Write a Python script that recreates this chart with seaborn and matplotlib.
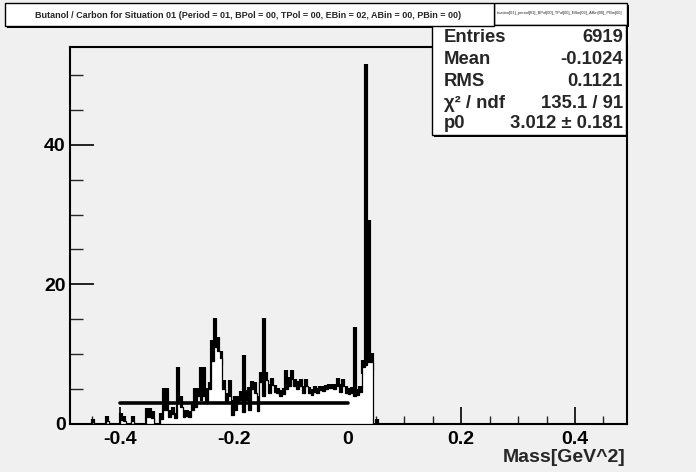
import numpy as np
import pandas as pd
import matplotlib
matplotlib.use("Agg")
import matplotlib.pyplot as plt
from matplotlib.patches import Rectangle
import seaborn as sns

# ---------------- data ----------------
bin_width = 0.005
first_center = -0.4575
ratio_values = [
    0, 0, 0.3, 0, 0, 0, 0, 0.5, 0, 0,
    0, 0, 0.6, 0.5, 0, 0, 0.5, 0, 0, 0,
    0, 1.0, 1.0, 0.8, 0, 0, 0.7, 2.0, 2.0, 1.0,
    1.5, 0.8, 3.0, 2.5, 1.0, 1.2, 1.0, 2.0, 2.5, 4.0,
    3.5, 4.0, 3.0, 5.0, 9.0, 11.0, 10.5, 9.4, 5.0, 3.0,
    4.0, 1.3, 2.0, 3.0, 3.5, 1.7, 3.5, 2.0, 5.0, 4.5,
    1.8, 6.0, 4.0, 6.3, 4.5, 5.6, 4.6, 4.4, 4.0, 4.3,
    5.0, 5.5, 6.5, 5.5, 5.0, 5.5, 4.5, 5.5, 4.5, 4.2,
    4.6, 4.4, 4.8, 4.7, 5.0, 5.2, 5.1, 5.0, 5.5, 4.6,
    5.5, 4.4, 4.3, 4.5, 4.0, 4.2, 4.6, 8.2, 8.4, 8.9,
    8.9, 0, 0.2,
]
ratio_errors = [
    0, 0, 0.4, 0, 0, 0, 0, 0.6, 0, 0,
    0, 0, 1.0, 0.6, 0, 0, 0.6, 0, 0, 0,
    0, 1.3, 1.3, 1.0, 0, 0, 0.9, 3.2, 3.2, 1.0,
    1.0, 0.8, 5.2, 1.5, 1.0, 0.8, 0.9, 1.0, 2.7, 1.2,
    4.7, 4.2, 2.2, 1.0, 3.0, 4.2, 2.0, 1.0, 1.3, 1.5,
    2.3, 2.1, 2.0, 1.0, 1.2, 8.2, 1.3, 3.3, 1.2, 1.5,
    2.2, 1.5, 11.2, 1.2, 1.2, 1.0, 1.0, 0.8, 0.8, 0.9,
    2.7, 1.2, 1.2, 1.0, 1.2, 1.0, 1.0, 1.0, 0.8, 0.8,
    0.8, 0.8, 0.6, 0.7, 0.6, 0.6, 0.6, 0.8, 1.1, 1.2,
    1.0, 1.0, 0.8, 0.8, 9.9, 0.8, 0.8, 1.0, 43.1, 20.3,
    1.3, 0, 0.5,
]
fit_range = [-0.4, 0.0]
fit_p0 = 3.012

stats_labels = ["Entries", "Mean", "RMS", "\u03c7\u00b2 / ndf", "p0"]
stats_values = ["6919", "-0.1024", "0.1121", "135.1 / 91", "3.012 \u00b1 0.181"]
title_text = ("Butanol / Carbon for Situation 01 (Period = 01, BPol = 00, "
              "TPol = 00, EBin = 02, ABin = 00, PBin = 00)")
hist_name = "tuation[01]_period[01]_BPol[00]_TPol[00]_EBin[02]_ABin[00]_PBin[00]"
x_label = "Mass[GeV^2]"
x_ticks = [-0.4, -0.2, 0.0, 0.2, 0.4]
x_tick_labels = ["-0.4", "-0.2", "0", "0.2", "0.4"]
y_ticks = [0, 20, 40]
y_tick_labels = ["0", "20", "40"]

# ---------------- derived ----------------
n = len(ratio_values)
centers = first_center + bin_width * np.arange(n)
edges = [float(e) for e in np.concatenate([centers - bin_width / 2,
                                            [centers[-1] + bin_width / 2]])]
df = pd.DataFrame({"mass": centers, "ratio": ratio_values, "err": ratio_errors})
df["lo"] = np.clip(df["ratio"] - df["err"], 0, None)
df["hi"] = df["ratio"] + df["err"]
mask = df["err"] > 0

W, H = 696, 472
BG = "#f0f0f0"
sns.set_theme(style="ticks")
plt.rcParams["font.family"] = ["Liberation Sans", "DejaVu Sans"]
plt.rcParams["font.weight"] = "bold"

fig = plt.figure(figsize=(W / 100, H / 100), dpi=100, facecolor=BG)
ax = fig.add_axes([70 / W, 1 - 424 / H, (627 - 70) / W, (424 - 47) / H])
ax.set_facecolor(BG)

# error bars (drawn beneath the filled histogram)
ax.vlines(df.loc[mask, "mass"], df.loc[mask, "lo"], df.loc[mask, "hi"],
          color="black", linewidth=3.0, zorder=2)

# white filled histogram
sns.histplot(x=df["mass"].to_numpy(), weights=df["ratio"].to_numpy(),
             bins=edges, element="step", fill=True, color="white",
             edgecolor="black", linewidth=0.9, alpha=1, ax=ax, zorder=3)

# fit line
fit_df = pd.DataFrame({"x": fit_range, "y": [fit_p0, fit_p0]})
sns.lineplot(data=fit_df, x="x", y="y", color="black", linewidth=2.6, ax=ax,
             zorder=4)

ax.set_xlim(-0.488, 0.4915)
ax.set_ylim(0, 54)
ax.set_xticks(x_ticks)
ax.set_xticklabels(x_tick_labels, fontsize=14, fontweight="bold")
ax.set_yticks(y_ticks)
ax.set_yticklabels(y_tick_labels, fontsize=14, fontweight="bold")
ax.set_xticks(np.arange(-0.45, 0.49, 0.05), minor=True)
ax.set_yticks(np.arange(0, 54, 5), minor=True)
ax.tick_params(which="major", direction="in", length=12, width=1.2, pad=5,
               colors="black")
ax.tick_params(which="minor", direction="in", length=6, width=1.0)
ax.tick_params(axis="y", which="major", length=17, pad=3)
ax.tick_params(axis="y", which="minor", length=9)
for s in ax.spines.values():
    s.set_linewidth(1.5)
    s.set_color("black")
    s.set_visible(True)
ax.set_xlabel("")
ax.set_ylabel("")
ax.grid(False)

fig.text(626 / W, 1 - 457 / H, x_label, ha="right", va="center",
         fontsize=14, fontweight="bold")


def box(x0, y0, x1, y1, shadow=3):
    fig.patches.append(Rectangle((x0 / W + shadow / W, 1 - y1 / H - shadow / H),
                                 (x1 - x0) / W, (y1 - y0) / H,
                                 transform=fig.transFigure, facecolor="black",
                                 edgecolor="none", zorder=5))
    fig.patches.append(Rectangle((x0 / W, 1 - y1 / H), (x1 - x0) / W,
                                 (y1 - y0) / H, transform=fig.transFigure,
                                 facecolor="white", edgecolor="black",
                                 linewidth=1, zorder=6))

# histogram-name box and stats box
box(494, 3, 627, 25, shadow=2)
fig.text(497 / W, 1 - 13 / H, hist_name, fontsize=2.9, fontweight="normal",
         va="center", ha="left", zorder=7)
box(432, 25, 626, 135, shadow=2)
row_y = [37, 59, 81, 103, 124]
for lab, val, yy in zip(stats_labels, stats_values, row_y):
    fig.text(444 / W, 1 - yy / H, lab, fontsize=13.3, fontweight="bold",
             va="center", ha="left", zorder=7)
    fig.text(623 / W, 1 - yy / H, val, fontsize=13.3, fontweight="bold",
             va="center", ha="right", zorder=7)

# title box
box(5, 3, 494, 26, shadow=2)
fig.text(248 / W, 1 - 15 / H, title_text, fontsize=6.5, fontweight="bold",
         va="center", ha="center", zorder=7)

fig.savefig("out.png", dpi=100, facecolor=BG)
